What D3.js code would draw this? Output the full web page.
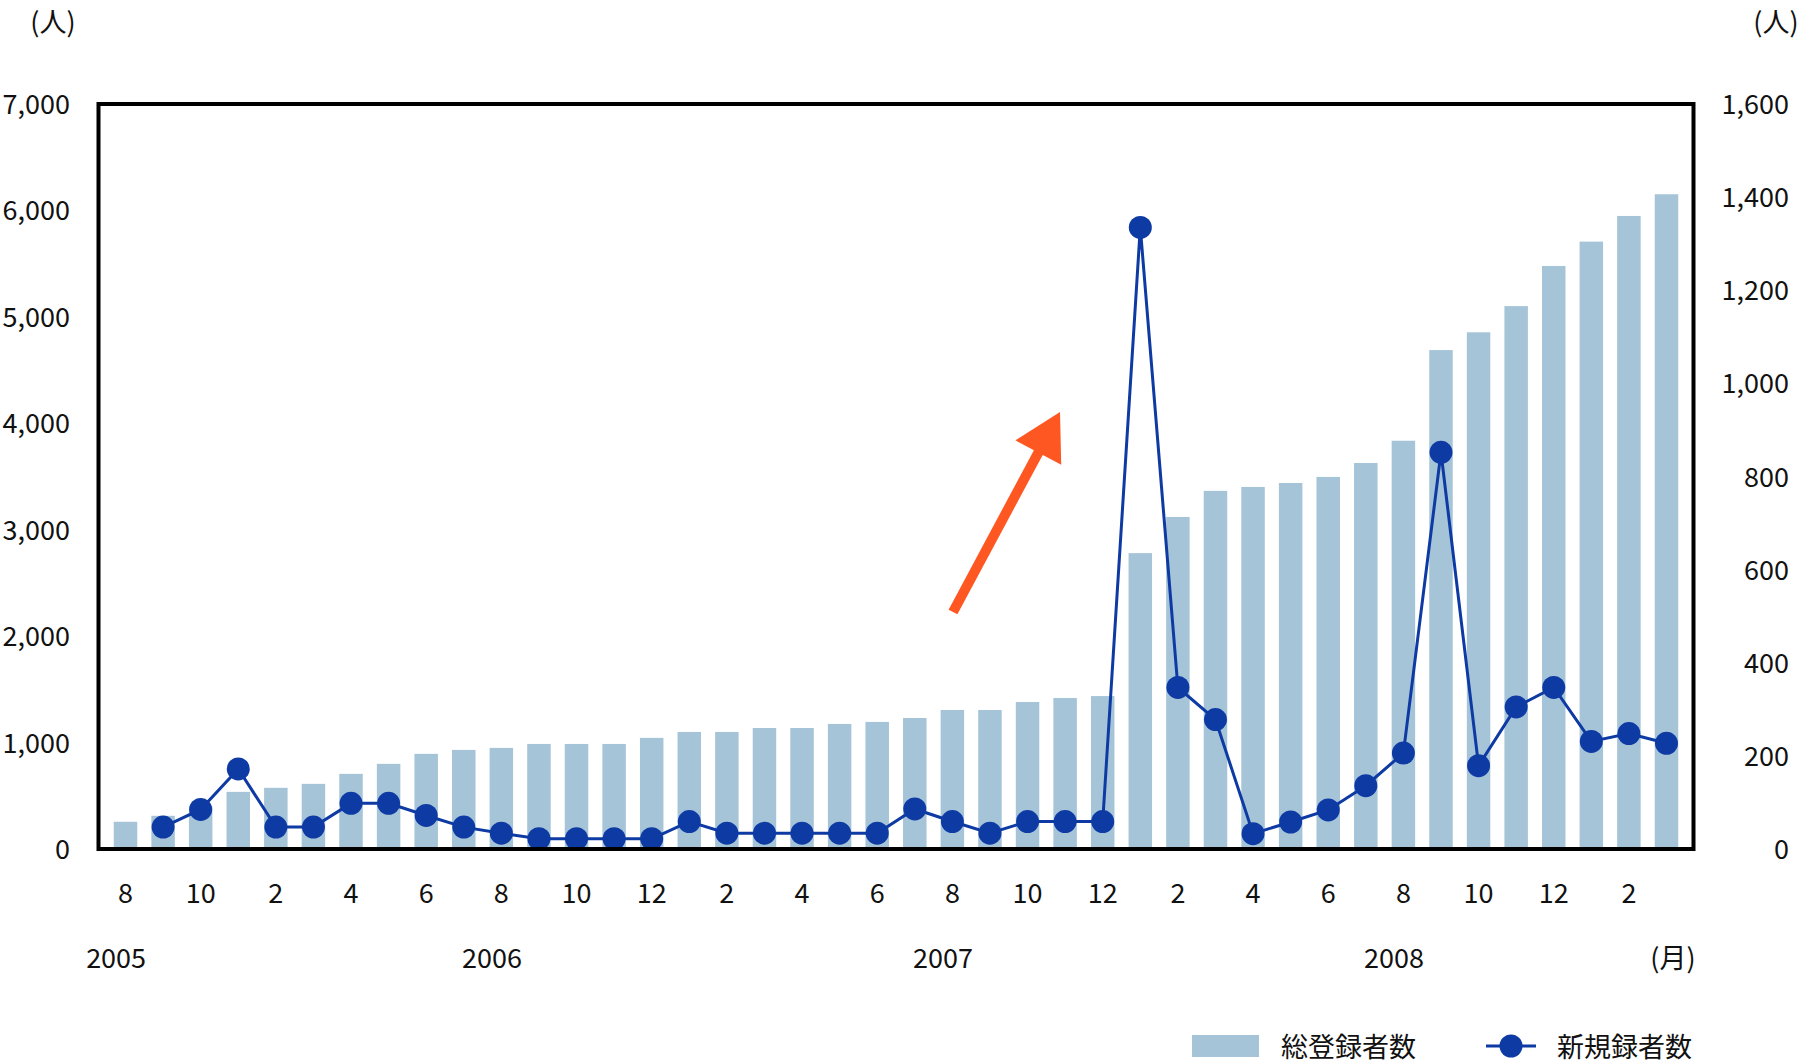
<!DOCTYPE html>
<html><head><meta charset="utf-8">
<script src="https://cdn.jsdelivr.net/npm/d3@7"></script>
<style>
html,body{margin:0;padding:0;background:#fff;}
text{font-family:"Noto Sans CJK JP","Noto Sans",sans-serif;fill:#111;}
</style></head>
<body><svg id="chart" width="1818" height="1064"></svg>
<script>
// ---- data ----
const categories = ["2005/8","2005/9","2005/10","2005/12",
  "2006/2","2006/3","2006/4","2006/5","2006/6","2006/7","2006/8","2006/9","2006/10","2006/11","2006/12",
  "2007/1","2007/2","2007/3","2007/4","2007/5","2007/6","2007/7","2007/8","2007/9","2007/10","2007/11","2007/12",
  "2008/1","2008/2","2008/3","2008/4","2008/5","2008/6","2008/7","2008/8","2008/9","2008/10","2008/11","2008/12",
  "2009/1","2009/2","2009/3"];
const totalRegistered = [256,312,400,537,575,612,706,800,894,931,950,987,987,987,1044,
  1100,1100,1137,1137,1175,1194,1231,1306,1306,1381,1419,1437,
  2780,3120,3365,3402,3439,3496,3627,3836,4688,4855,5101,5478,5707,5948,6152];
const newRegistered = [null,47,85,172,47,47,98,98,72,47,34,22,22,22,22,
  59,34,34,34,34,34,86,59,34,59,59,59,
  1335,347,278,33,58,84,136,206,852,179,305,347,231,248,227];
const monthTicks = ["2005/8","2005/10","2006/2","2006/4","2006/6","2006/8","2006/10","2006/12",
  "2007/2","2007/4","2007/6","2007/8","2007/10","2007/12",
  "2008/2","2008/4","2008/6","2008/8","2008/10","2008/12","2009/2"];
const yearLabels = ["2005","2006","2007","2008"];
const yearAnchors = ["2005/8","2006/8","2007/8","2008/8"];
const leftTicks = [0,1000,2000,3000,4000,5000,6000,7000];
const rightTicks = [0,200,400,600,800,1000,1200,1400,1600];
const seriesNames = ["総登録者数","新規録者数"];
const unitLabel = "(人)";
const monthUnit = "(月)";

// ---- layout ----
const L = 98.5, R = 1693.5, T = 104, B = 849;
const barColor = "#a6c4d8", lineColor = "#0e3aa4", arrowColor = "#ff5722";
const fs = 27;

const svg = d3.select("#chart");
const x = d3.scaleBand().domain(categories).range([L, R]).paddingInner(0.375).paddingOuter(0.406);
const xc = d => x(d) + x.bandwidth()/2;
const yL = d3.scaleLinear().domain([0,7000]).range([B, T]);
const yR = d3.scaleLinear().domain([0,1600]).range([B, T]);

// bars
svg.append("g").selectAll("rect").data(categories).join("rect")
  .attr("x", d => x(d)).attr("width", x.bandwidth())
  .attr("y", (d,i) => yL(totalRegistered[i]))
  .attr("height", (d,i) => B - yL(totalRegistered[i]))
  .attr("fill", barColor);

// line
const pts = categories.map((c,i) => ({c, v: newRegistered[i]})).filter(p => p.v != null);
svg.append("path").datum(pts)
  .attr("d", d3.line().x(p => xc(p.c)).y(p => yR(p.v)))
  .attr("fill","none").attr("stroke", lineColor).attr("stroke-width", 3);
svg.append("g").selectAll("circle").data(pts).join("circle")
  .attr("cx", p => xc(p.c)).attr("cy", p => yR(p.v)).attr("r", 11.5)
  .attr("fill", lineColor);

// frame
svg.append("rect").attr("x", L).attr("y", T).attr("width", R-L).attr("height", B-T)
  .attr("fill","none").attr("stroke","#000").attr("stroke-width",4);

// left axis
const gl = svg.append("g").attr("transform", `translate(${L},-2)`)
  .call(d3.axisLeft(yL).tickValues(leftTicks).tickFormat(d3.format(",")).tickSize(0).tickPadding(28.5));
gl.select(".domain").remove();
gl.selectAll("text").attr("font-size", fs).attr("dy", null).attr("dominant-baseline","central")
  .style("font-family", '"Noto Sans CJK JP"').attr("fill","#111");

// right axis
const gr = svg.append("g").attr("transform", `translate(${R},-2)`)
  .call(d3.axisRight(yR).tickValues(rightTicks).tickFormat(d3.format(",")).tickSize(0));
gr.select(".domain").remove();
gr.selectAll("text").attr("font-size", fs).attr("dy", null).attr("dominant-baseline","central")
  .attr("text-anchor","end").attr("x", 1789 - R)
  .style("font-family", '"Noto Sans CJK JP"').attr("fill","#111");

// bottom axis (months)
const gb = svg.append("g").attr("transform", `translate(0,${B})`)
  .call(d3.axisBottom(x).tickValues(monthTicks).tickFormat(d => d.split("/")[1]).tickSize(0));
gb.select(".domain").remove();
gb.selectAll("text").attr("font-size", fs).attr("dy", null).attr("y", 42)
  .attr("dominant-baseline","central")
  .style("font-family", '"Noto Sans CJK JP"').attr("fill","#111");

// year labels
svg.append("g").selectAll("text").data(yearLabels).join("text")
  .attr("x", (d,i) => xc(yearAnchors[i]) - x.step()/4).attr("y", 956)
  .attr("text-anchor","middle").attr("dominant-baseline","central")
  .attr("font-size", fs).text(d => d);

// unit labels
svg.append("text").attr("x", 53).attr("y", 20).attr("text-anchor","middle")
  .attr("dominant-baseline","central").attr("font-size", fs).text(unitLabel);
svg.append("text").attr("x", 1776).attr("y", 20).attr("text-anchor","middle")
  .attr("dominant-baseline","central").attr("font-size", fs).text(unitLabel);
svg.append("text").attr("x", 1673).attr("y", 956).attr("text-anchor","middle")
  .attr("dominant-baseline","central").attr("font-size", fs).text(monthUnit);

// arrow annotation
const tail = [953, 612], tip = [1060, 412];
const dx = tip[0]-tail[0], dy = tip[1]-tail[1], len = Math.hypot(dx,dy);
const ux = dx/len, uy = dy/len, headLen = 46, headHalf = 26;
const bx = tip[0]-ux*headLen, by = tip[1]-uy*headLen;
svg.append("line").attr("x1", tail[0]).attr("y1", tail[1]).attr("x2", bx+ux*2).attr("y2", by+uy*2)
  .attr("stroke", arrowColor).attr("stroke-width", 10);
svg.append("path").attr("d", `M${tip[0]},${tip[1]} L${bx - uy*headHalf},${by + ux*headHalf} L${bx + uy*headHalf},${by - ux*headHalf} Z`)
  .attr("fill", arrowColor);

// legend
const lg = svg.append("g");
lg.append("rect").attr("x",1192).attr("y",1035).attr("width",67).attr("height",22).attr("fill",barColor);
lg.append("text").attr("x",1281).attr("y",1045).attr("dominant-baseline","central").attr("font-size",fs).text(seriesNames[0]);
lg.append("line").attr("x1",1486).attr("x2",1536).attr("y1",1046).attr("y2",1046).attr("stroke",lineColor).attr("stroke-width",3);
lg.append("circle").attr("cx",1511).attr("cy",1046).attr("r",11.5).attr("fill",lineColor);
lg.append("text").attr("x",1557).attr("y",1045).attr("dominant-baseline","central").attr("font-size",fs).text(seriesNames[1]);
</script></body></html>
